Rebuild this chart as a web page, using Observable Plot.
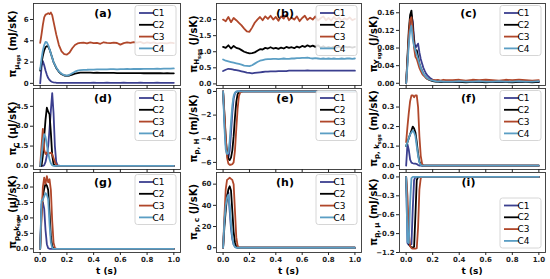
<!DOCTYPE html>
<html><head><meta charset="utf-8">
<script src="https://cdn.jsdelivr.net/npm/d3@7"></script>
<script src="https://cdn.jsdelivr.net/npm/@observablehq/plot@0.6"></script>
<style>
body{margin:0;background:#fff;}
#fig{position:relative;width:550px;height:279px;overflow:hidden;font-family:"DejaVu Sans",sans-serif;background:#fff;}
#fig svg{position:absolute;overflow:visible;}
</style></head><body><div id="fig"></div>
<script>
const series = ["C1","C2","C3","C4"];
const seriesColors = ["#3b3f8f","#000000","#b0472a","#5b9ec4"];
const xTicks = [0,0.2,0.4,0.6,0.8,1.0];
const xTickLabels = ["0.0","0.2","0.4","0.6","0.8","1.0"];
const xAxisLabel = "t (s)";
const panelTitles = ["(a)","(b)","(c)","(d)","(e)","(f)","(g)","(h)","(i)"];

// (a)
const tA = [0,0.01,0.02,0.03,0.04,0.05,0.06,0.07,0.08,0.09,0.10,0.12,0.14,0.16,0.18,0.20,0.22,0.24,0.26,0.28,0.30,
  0.325,0.35,0.375,0.40,0.425,0.45,0.475,0.50,0.525,0.55,0.575,0.60,0.625,0.65,0.675,0.70,0.725,0.75,0.775,0.80,0.825,0.85,0.875,0.90,0.925,0.95,0.975,1.00];
const aC1 = [0,1.5,2.1,1.7,1.2,0.8,0.5,0.32,0.2,0.13,0.09,0.06,0.05,0.04,0.04,0.04,0.04,0.04,0.04,0.05,0.05,
  0.05,0.05,0.05,0.06,0.05,0.05,0.05,0.06,0.05,0.05,0.05,0.05,0.06,0.05,0.05,0.05,0.05,0.06,0.05,0.05,0.05,0.05,0.06,0.05,0.05,0.05,0.05,0.05];
const aC2 = [1.2,1.9,2.6,3.1,3.4,3.5,3.45,3.2,2.8,2.4,2.0,1.45,1.08,0.86,0.74,0.7,0.74,0.83,0.92,0.97,1.0,
  1.0,1.01,1.0,0.99,1.0,0.99,0.99,0.98,0.98,0.98,0.97,0.97,0.97,0.96,0.97,0.96,0.96,0.96,0.95,0.96,0.95,0.95,0.95,0.95,0.94,0.95,0.94,0.94];
const aC3 = [3.8,4.6,5.5,6.2,6.45,6.5,6.6,6.5,6.65,6.4,5.8,4.6,3.6,3.0,2.75,2.7,2.9,3.3,3.6,3.75,3.8,
  3.82,3.75,3.85,3.78,3.8,3.72,3.86,3.8,3.77,3.83,3.79,3.64,3.78,3.84,3.8,3.88,3.82,3.9,3.76,3.84,3.79,3.85,3.74,3.8,3.78,3.76,3.82,3.78];
const aC4 = [1.3,2.3,3.1,3.6,3.9,3.85,3.6,3.2,2.8,2.4,2.0,1.5,1.12,0.9,0.77,0.73,0.8,0.95,1.1,1.2,1.25,
  1.27,1.28,1.3,1.3,1.31,1.32,1.31,1.32,1.33,1.33,1.32,1.34,1.34,1.35,1.34,1.35,1.36,1.35,1.36,1.37,1.36,1.37,1.38,1.37,1.38,1.39,1.38,1.4];
const aYTicks = [0,2,4,6];
const aYTickLabels = ["0","2","4","6"];
const aYLabel = [["π",0],["μ",1],["sgs",2],[" (mJ/sK)",0]];

// (b)
const tB = [0,0.02,0.04,0.06,0.08,0.10,0.12,0.14,0.16,0.18,0.20,0.22,0.24,0.26,0.28,0.30,0.32,0.34,0.36,0.38,0.40,0.42,0.44,0.46,0.48,0.50,
  0.52,0.54,0.56,0.58,0.60,0.62,0.64,0.66,0.68,0.70,0.72,0.74,0.76,0.78,0.80,0.82,0.84,0.86,0.88,0.90,0.92,0.94,0.96,0.98,1.00];
const bC1 = [0.4,0.44,0.47,0.46,0.44,0.43,0.41,0.39,0.37,0.35,0.34,0.33,0.34,0.35,0.36,0.37,0.38,0.38,0.39,0.39,
  0.39,0.4,0.4,0.4,0.4,0.41,0.41,0.41,0.41,0.41,0.41,0.41,0.42,0.41,0.41,0.41,0.41,0.41,0.41,0.41,
  0.41,0.41,0.41,0.41,0.41,0.41,0.41,0.41,0.41,0.41,0.41];
const bC2 = [1.15,1.12,1.2,1.1,1.18,1.12,1.1,1.05,1.0,0.97,0.95,0.96,0.98,1.03,1.08,1.07,1.12,1.1,1.14,1.1,
  1.12,1.09,1.13,1.1,1.15,1.12,1.14,1.11,1.16,1.13,1.18,1.15,1.2,1.16,1.19,1.15,1.2,1.13,1.17,1.12,
  1.15,1.12,1.16,1.13,1.15,1.12,1.16,1.14,1.15,1.13,1.15];
const bC3 = [2.0,1.95,2.08,1.92,2.05,1.98,1.9,1.82,1.72,1.63,1.62,1.75,1.9,2.0,2.08,1.98,2.1,2.02,2.12,2.0,
  2.08,1.96,2.1,2.03,2.15,1.98,2.06,2.0,2.1,1.95,2.05,2.12,1.99,2.06,2.0,2.1,1.97,2.04,2.1,1.98,
  2.05,1.97,2.08,2.0,2.06,1.96,2.04,2.0,2.07,1.98,2.02];
const bC4 = [0.76,0.72,0.7,0.68,0.66,0.64,0.62,0.6,0.57,0.56,0.55,0.58,0.63,0.68,0.72,0.74,0.76,0.77,0.77,0.78,
  0.78,0.77,0.78,0.79,0.78,0.78,0.79,0.79,0.8,0.8,0.81,0.81,0.82,0.8,0.79,0.8,0.79,0.78,0.79,0.78,
  0.79,0.78,0.79,0.78,0.78,0.79,0.78,0.79,0.79,0.78,0.79];
const bYTicks = [0,0.5,1.0,1.5,2.0];
const bYTickLabels = ["0.0","0.5","1.0","1.5","2.0"];
const bYLabel = [["π",0],["H",1],["sgs",2],[" (J/sK)",0]];

// (c)
const tC = [0,0.01,0.02,0.03,0.04,0.05,0.06,0.07,0.08,0.09,0.10,0.11,0.12,0.13,0.14,0.15,0.16,0.18,0.20,0.22,0.24,0.26,0.28,0.30,
  0.35,0.40,0.45,0.50,0.55,0.60,0.65,0.70,0.75,0.80,0.85,0.90,0.95,1.00];
const cC1 = [0,0.05,0.1,0.14,0.155,0.14,0.1,0.08,0.085,0.09,0.07,0.055,0.045,0.035,0.028,0.022,0.018,0.012,0.008,0.006,0.005,0.004,0.004,0.004,
  0.004,0.003,0.004,0.003,0.004,0.004,0.003,0.004,0.003,0.004,0.003,0.004,0.004,0.003];
const cC2 = [0,0.06,0.12,0.155,0.165,0.13,0.09,0.07,0.075,0.06,0.045,0.035,0.028,0.022,0.017,0.013,0.01,0.007,0.005,0.004,0.003,0.003,0.003,0.003,
  0.003,0.003,0.002,0.003,0.003,0.002,0.003,0.003,0.003,0.002,0.003,0.003,0.002,0.003];
const cC3 = [0,0.05,0.11,0.145,0.15,0.12,0.08,0.06,0.055,0.045,0.035,0.028,0.022,0.018,0.015,0.012,0.01,0.008,0.007,0.007,0.008,0.006,0.008,0.007,
  0.007,0.008,0.006,0.008,0.007,0.008,0.007,0.006,0.008,0.007,0.008,0.007,0.006,0.007];
const cC4 = [0,0.04,0.09,0.12,0.13,0.1,0.085,0.075,0.065,0.055,0.045,0.035,0.028,0.022,0.018,0.014,0.011,0.008,0.006,0.005,0.004,0.005,0.004,0.004,
  0.004,0.005,0.004,0.004,0.005,0.004,0.004,0.005,0.004,0.004,0.005,0.004,0.004,0.005];
const cYTicks = [0,0.04,0.08,0.12,0.16];
const cYTickLabels = ["0.00","0.04","0.08","0.12","0.16"];
const cYLabel = [["π",0],["Y",1],["sgs",2],[" (J/sK)",0]];

// shared early-time grid for (d)-(i)
const tE = [0,0.01,0.02,0.03,0.04,0.05,0.06,0.07,0.08,0.09,0.10,0.11,0.12,0.13,0.15,0.2,0.5,1.0];

const dC1 = [0,0,0,0.05,0.3,0.8,1.5,2.8,4.2,5.5,4.0,1.5,0.3,0.05,0,0,0,0];
const dC2 = [0,0,0.8,2.2,3.5,4.4,4.1,3.9,2.5,0.8,0.15,0.02,0,0,0,0,0,0];
const dC3 = [0,1.5,2.8,1.2,0.9,1.0,1.0,0.95,1.0,0.9,0.6,0.3,0.1,0.02,0,0,0,0];
const dC4 = [0,0.8,1.8,2.4,2.2,1.6,1.0,0.5,0.2,0.05,0,0,0,0,0,0,0,0];
const dYTicks = [0,1.5,3.0,4.5];
const dYTickLabels = ["0.0","1.5","3.0","4.5"];
const dYLabel = [["π",0],["C",1],[" (μJ/sK)",0]];

const eC1 = [0,-2.5,-4.5,-5.4,-5.6,-5.0,-3.5,-1.8,-0.6,-0.15,-0.03,0,0,0,0,0,0,0];
const eC2 = [0,-2.0,-4.0,-5.2,-5.7,-5.8,-5.6,-5.0,-3.8,-2.2,-0.9,-0.25,-0.05,0,0,0,0,0];
const eC3 = [0,-1.8,-3.8,-5.6,-6.1,-6.2,-6.2,-6.15,-6.0,-5.0,-3.2,-1.5,-0.4,-0.08,0,0,0,0];
const eC4 = [0,-3.0,-4.9,-5.3,-5.2,-4.2,-2.6,-1.2,-0.4,-0.1,0,0,0,0,0,0,0,0];
const eYTicks = [-6,-4,-2,0];
const eYTickLabels = ["−6","−4","−2","0"];
const eYLabel = [["π",0],["p, H",1],[" (mJ/sK)",0]];

const fC1 = [0,0.11,0.08,0.03,0.015,0.012,0.01,0.01,0.008,0.003,0,0,0,0,0,0,0,0];
const fC2 = [0.1,0.12,0.14,0.16,0.18,0.2,0.19,0.17,0.12,0.06,0.02,0.005,0,0,0,0,0,0];
const fC3 = [0.12,0.2,0.27,0.33,0.36,0.36,0.35,0.36,0.36,0.3,0.15,0.05,0.01,0,0,0,0,0];
const fC4 = [0.1,0.12,0.14,0.16,0.17,0.18,0.17,0.15,0.1,0.05,0.015,0.003,0,0,0,0,0,0];
const fYTicks = [0,0.1,0.2,0.3];
const fYTickLabels = ["0.0","0.1","0.2","0.3"];
const fYLabel = [["π",0],["p, k",1],["sgs",2],[" (mJ/sK)",0]];

const gC1 = [0,1.45,1.5,1.3,0.6,0.15,0.02,0,0,0,0,0,0,0,0,0,0,0];
const gC2 = [0,1.2,1.7,1.95,2.1,2.05,1.9,1.2,0.4,0.08,0.01,0,0,0,0,0,0,0];
const gC3 = [0,1.0,2.0,2.3,2.1,2.35,2.15,2.25,1.9,0.9,0.2,0.03,0,0,0,0,0,0];
const gC4 = [0,1.55,1.6,1.7,1.8,1.75,1.6,0.8,0.2,0.03,0,0,0,0,0,0,0,0];
const gYTicks = [0,0.5,1.0,1.5,2.0];
const gYTickLabels = ["0.0","0.5","1.0","1.5","2.0"];
const gYLabel = [["π",0],["p, k",1],["sgs",2],[" (μJ/sK)",0]];

const hC1 = [0,25,40,50,52,35,18,8,3,1,0.2,0,0,0,0,0,0,0];
const hC2 = [0,20,35,48,55,58,54,35,15,5,1,0.2,0,0,0,0,0,0];
const hC3 = [0,30,55,64,65,66,65,64,60,35,10,2,0.3,0,0,0,0,0];
const hC4 = [0,25,40,47,50,40,22,10,3,0.8,0.1,0,0,0,0,0,0,0];
const hYTicks = [0,20,40,60];
const hYTickLabels = ["0","20","40","60"];
const hYLabel = [["π",0],["p, c",1],[" (J/sK)",0]];

const iC1 = [0,-1.05,-1.08,-1.08,-1.07,-0.5,-0.05,0,0,0,0,0,0,0,0,0,0,0];
const iC2 = [0,-0.6,-1.05,-1.1,-1.12,-1.12,-1.11,-0.6,-0.05,0,0,0,0,0,0,0,0,0];
const iC3 = [0,-0.3,-0.9,-1.1,-1.13,-1.14,-1.14,-1.14,-1.13,-0.8,-0.2,-0.02,0,0,0,0,0,0];
const iC4 = [0,-1.03,-1.05,-0.4,-0.02,0,0,0,0,0,0,0,0,0,0,0,0,0];
const iYTicks = [-1.2,-0.9,-0.6,-0.3,0];
const iYTickLabels = ["−1.2","−0.9","−0.6","−0.3","0.0"];
const iYLabel = [["π",0],["p, μ",1],[" (mJ/sK)",0]];

// ---------- layout ----------
const colLeft = [33, 216, 399], colRight = [180, 361, 545];
const rowTop = [3, 88, 172], rowBottom = [85, 169, 252];
const yLabelX = [12.5, 193, 373];

const panels = [
  {t:tA, v:[aC1,aC2,aC3,aC4], ticks:aYTicks, labels:aYTickLabels, ylab:aYLabel, dom:[-0.2,7.5], r:0, c:0, leg:"top"},
  {t:tB, v:[bC1,bC2,bC3,bC4], ticks:bYTicks, labels:bYTickLabels, ylab:bYLabel, dom:[-0.05,2.5], r:0, c:1, leg:"top"},
  {t:tC, v:[cC1,cC2,cC3,cC4], ticks:cYTicks, labels:cYTickLabels, ylab:cYLabel, dom:[-0.005,0.181], r:0, c:2, leg:"top"},
  {t:tE, v:[dC1,dC2,dC3,dC4], ticks:dYTicks, labels:dYTickLabels, ylab:dYLabel, dom:[-0.27,5.85], r:1, c:0, leg:"top"},
  {t:tE, v:[eC1,eC2,eC3,eC4], ticks:eYTicks, labels:eYTickLabels, ylab:eYLabel, dom:[-6.6,0.25], r:1, c:1, leg:"top"},
  {t:tE, v:[fC1,fC2,fC3,fC4], ticks:fYTicks, labels:fYTickLabels, ylab:fYLabel, dom:[-0.02,0.395], r:1, c:2, leg:"top"},
  {t:tE, v:[gC1,gC2,gC3,gC4], ticks:gYTicks, labels:gYTickLabels, ylab:gYLabel, dom:[-0.12,2.47], r:2, c:0, leg:"top"},
  {t:tE, v:[hC1,hC2,hC3,hC4], ticks:hYTicks, labels:hYTickLabels, ylab:hYLabel, dom:[-4.5,71], r:2, c:1, leg:"top"},
  {t:tE, v:[iC1,iC2,iC3,iC4], ticks:iYTicks, labels:iYTickLabels, ylab:iYLabel, dom:[-1.2,0.07], r:2, c:2, leg:"bottom"}
];

const fig = document.getElementById("fig");
const ML = 45, MR = 6, MT = 6, MB = 6;
const FONT = "DejaVu Sans";

panels.forEach((p, k) => {
  const W = colRight[p.c] - colLeft[p.c];
  const H = rowBottom[p.r] - rowTop[p.r];
  const bottomRow = p.r === 2;
  const rows = [];
  series.forEach((s, si) => p.t.forEach((t, j) => rows.push({t, v: p.v[si][j], s})));
  const svg = Plot.plot({
    width: W + ML + MR, height: H + MT + MB,
    marginLeft: ML, marginRight: MR, marginTop: MT, marginBottom: MB,
    style: {fontFamily: FONT, background: "transparent", overflow: "visible"},
    x: {domain: [-0.05, 1.05]},
    y: {domain: p.dom},
    color: {domain: series, range: seriesColors},
    marks: [
      Plot.line(rows, {x: "t", y: "v", z: "s", stroke: "s", strokeWidth: 1.8, strokeLinejoin: "round"}),
      Plot.frame({stroke: "#333", strokeWidth: 0.9}),
      Plot.axisX({ticks: xTicks, tickSize: 3, tickPadding: 1.5, label: null, color: "#222",
        tickFormat: bottomRow ? (d => xTickLabels[xTicks.indexOf(d)]) : (() => ""),
        fontSize: 7, fontWeight: "bold"}),
      Plot.axisY({ticks: p.ticks, tickSize: 3, tickPadding: 2, label: null, color: "#222",
        tickFormat: d => p.labels[p.ticks.indexOf(d)], fontSize: 7, fontWeight: "bold"}),
      Plot.text([panelTitles[k]], {text: d => d, frameAnchor: "top", dy: 10, dx: -4,
        fontSize: 11, fontWeight: "bold", fill: "#000", lineAnchor: "middle"})
    ]
  });
  svg.style.left = (colLeft[p.c] - ML) + "px";
  svg.style.top = (rowTop[p.r] - MT) + "px";
  fig.appendChild(svg);
  const S = d3.select(svg);

  // y label with subscripts
  const fs = 10;
  const lx = yLabelX[p.c] - (colLeft[p.c] - ML) + 3.5;
  const ly = MT + H / 2;
  const txt = S.append("text").attr("transform", `translate(${lx},${ly}) rotate(-90)`)
    .attr("text-anchor", "middle").attr("font-weight", "bold").attr("font-family", FONT)
    .attr("font-size", fs).attr("fill", "#000").style("white-space", "pre");
  const offs = [0, 2.6, 4.2], sizes = [fs, fs * 0.7, fs * 0.52];
  let cur = 0;
  p.ylab.forEach(([str, lvl]) => {
    txt.append("tspan").attr("dy", offs[lvl] - cur).attr("font-size", sizes[lvl]).text(str);
    cur = offs[lvl];
  });

  // x label
  if (bottomRow) {
    S.append("text").attr("x", ML + W / 2).attr("y", MT + H + 21.5).attr("text-anchor", "middle")
      .attr("font-weight", "bold").attr("font-family", FONT).attr("font-size", 9).attr("fill", "#000")
      .style("white-space", "pre").text(xAxisLabel);
  }

  // legend
  const lw = 41, lh = 50;
  const lx0 = ML + W - 4 - lw;
  const ly0 = p.leg === "top" ? MT + 2.5 : MT + H - 4 - lh;
  const L = S.append("g");
  L.append("rect").attr("x", lx0).attr("y", ly0).attr("width", lw).attr("height", lh)
    .attr("rx", 2.5).attr("fill", "#fff").attr("fill-opacity", 0.85).attr("stroke", "#cccccc").attr("stroke-width", 0.8);
  series.forEach((s, i) => {
    const yy = ly0 + 7.5 + i * 11.8;
    L.append("line").attr("x1", lx0 + 4).attr("x2", lx0 + 19).attr("y1", yy).attr("y2", yy)
      .attr("stroke", seriesColors[i]).attr("stroke-width", 1.8);
    L.append("text").attr("x", lx0 + 23.5).attr("y", yy).attr("dy", "0.35em")
      .attr("font-family", FONT).attr("font-size", 9).attr("fill", "#000").text(s);
  });
});
</script></body></html>
